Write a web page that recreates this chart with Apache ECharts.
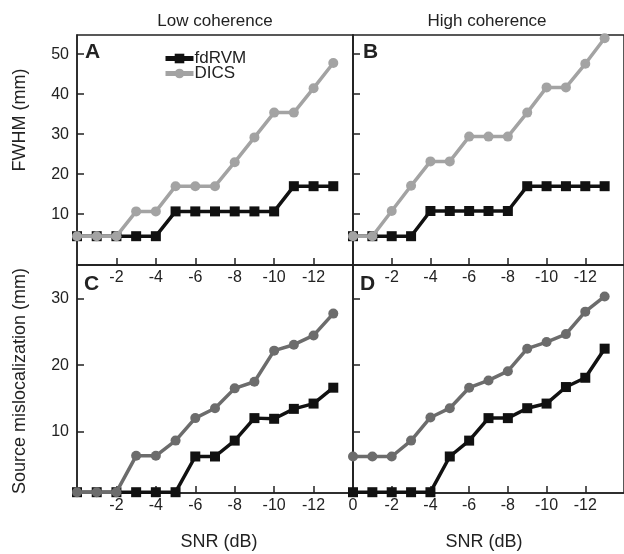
<!DOCTYPE html>
<html><head><meta charset="utf-8">
<script src="https://cdn.jsdelivr.net/npm/echarts@6/dist/echarts.min.js"></script>
<style>html,body{margin:0;padding:0;background:#fff}#c{width:624px;height:554px}</style>
</head><body><div id="c"></div>
<script>
const snr = [0,-1,-2,-3,-4,-5,-6,-7,-8,-9,-10,-11,-12,-13];
const fwhmLowRVM  = [4.5,4.5,4.5,4.5,4.5,10.7,10.7,10.7,10.7,10.7,10.7,17,17,17];
const fwhmLowDICS = [4.5,4.5,4.5,10.7,10.7,17,17,17,23,29.2,35.4,35.4,41.5,47.8];
const fwhmHighRVM  = [4.5,4.5,4.5,4.5,10.8,10.8,10.8,10.8,10.8,17,17,17,17,17];
const fwhmHighDICS = [4.5,4.5,10.8,17.1,23.2,23.2,29.4,29.4,29.4,35.4,41.7,41.7,47.6,54];
const misLowRVM  = [0.8,0.8,0.8,0.8,0.8,0.8,6.2,6.2,8.6,12,11.9,13.4,14.2,16.6];
const misLowDICS = [0.8,0.8,0.8,6.3,6.3,8.6,12,13.5,16.5,17.5,22.2,23.1,24.5,27.8];
const misHighRVM  = [0.8,0.8,0.8,0.8,0.8,6.2,8.6,12,12,13.5,14.2,16.7,18.1,22.5];
const misHighDICS = [6.2,6.2,6.2,8.6,12.1,13.5,16.6,17.7,19.1,22.5,23.5,24.7,28.1,30.4];
const fwhmTicks = [10,20,30,40,50];
const misTicks = [10,20,30];
const xTicks = [-2,-4,-6,-8,-10,-12];

const FONT = "'Liberation Sans', Arial, sans-serif";
const AX = '#222';
const BLACK = '#111';
const LIGHT = '#a3a3a3';
const DARK = '#6c6c6c';

const grids = [
  {left:77, top:35, width:276, height:230},
  {left:353, top:35, width:280, height:230},
  {left:77, top:265, width:276, height:228},
  {left:353, top:265, width:280, height:228}
].map(g => Object.assign({show:true, borderColor:AX, borderWidth:1.5, backgroundColor:'transparent'}, g));

function xAx(i, showZero){
  return {
    type:'value', gridIndex:i, inverse:true, min:-14, max:0, interval:2,
    axisLine:{show:true, onZero:false, lineStyle:{color:AX, width:1.5}},
    axisTick:{show:true, inside:true, length:7, lineStyle:{color:AX, width:1.5}, customValues: xTicks},
    axisLabel:{show:true, margin:5, color:'#222', fontFamily:FONT, fontSize:16,
      customValues: showZero ? [0].concat(xTicks) : xTicks, formatter: v => String(v)},
    splitLine:{show:false}
  };
}
function yAx(i, top, showLabels){
  return {
    type:'value', gridIndex:i,
    min: top ? -2.7 : 0.68, max: top ? 54.8 : 35.15,
    axisLine:{show:true, onZero:false, lineStyle:{color:AX, width:1.5}},
    axisTick:{show:true, inside:true, length:7, lineStyle:{color:AX, width:1.5}, customValues: top ? fwhmTicks : misTicks},
    axisLabel:{show:showLabels, margin:8, color:'#222', fontFamily:FONT, fontSize:16, customValues: top ? fwhmTicks : misTicks},
    splitLine:{show:false}
  };
}
function pairs(ys){ return snr.map((x,k)=>[x, ys[k]]); }
function ser(name, i, ys, color, sym){
  return {
    name, type:'line', xAxisIndex:i, yAxisIndex:i, data:pairs(ys),
    symbol:sym, symbolSize:10, showSymbol:true,
    lineStyle:{color, width:3.5}, itemStyle:{color, borderWidth:0},
    animation:false, clip:false, z: name==='DICS' ? 3 : 2
  };
}
const txt = (t, x, y, opts) => ({type:'text', x, y, style:Object.assign({text:t, fill:'#222', font:'17px '+FONT, textAlign:'center', textVerticalAlign:'middle'}, opts||{})});

const option = {
  animation:false,
  backgroundColor:'#fff',
  grid: grids,
  xAxis:[xAx(0,false), xAx(1,false), xAx(2,false), xAx(3,true)],
  yAxis:[yAx(0,true,true), yAx(1,true,false), yAx(2,false,true), yAx(3,false,false)],
  legend:{
    data:['fdRVM','DICS'], orient:'vertical', left:158, top:45,
    itemWidth:28, itemHeight:12, itemGap:-2,
    lineStyle:{width:5},
    textStyle:{fontFamily:FONT, fontSize:17, color:'#222', padding:[0,0,0,-4], lineHeight:13}
  },
  series:[
    ser('fdRVM',0,fwhmLowRVM,BLACK,'rect'), ser('DICS',0,fwhmLowDICS,LIGHT,'circle'),
    ser('fdRVM',1,fwhmHighRVM,BLACK,'rect'), ser('DICS',1,fwhmHighDICS,LIGHT,'circle'),
    ser('fdRVM',2,misLowRVM,BLACK,'rect'), ser('DICS',2,misLowDICS,DARK,'circle'),
    ser('fdRVM',3,misHighRVM,BLACK,'rect'), ser('DICS',3,misHighDICS,DARK,'circle')
  ],
  graphic:[
    txt('Low coherence', 215, 21),
    txt('High coherence', 487, 21),
    txt('SNR (dB)', 219, 542, {font:'18px '+FONT}),
    txt('SNR (dB)', 484, 542, {font:'18px '+FONT}),
    Object.assign(txt('FWHM (mm)', 20, 120, {font:'18px '+FONT}), {rotation:Math.PI/2}),
    Object.assign(txt('Source mislocalization (mm)', 20, 381, {font:'18px '+FONT}), {rotation:Math.PI/2}),
    txt('A', 85, 52, {font:'bold 21px '+FONT, textAlign:'left'}),
    txt('B', 363, 52, {font:'bold 21px '+FONT, textAlign:'left'}),
    txt('C', 84, 284, {font:'bold 21px '+FONT, textAlign:'left'}),
    txt('D', 360, 284, {font:'bold 21px '+FONT, textAlign:'left'})
  ]
};
const chart = echarts.init(document.getElementById('c'), null, {renderer:'canvas'});
chart.setOption(option);
</script></body></html>
